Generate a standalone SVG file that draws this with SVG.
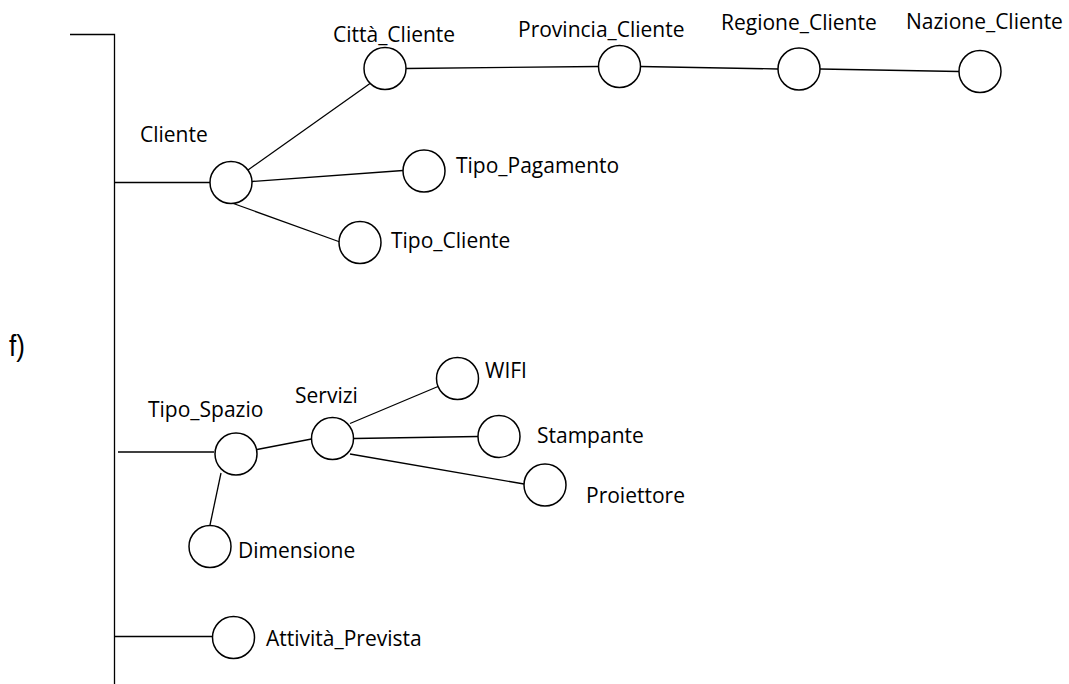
<svg xmlns="http://www.w3.org/2000/svg" width="1069" height="684" viewBox="0 0 1069 684">
  <style>
    .bg { fill: #ffffff; }
    .edge { stroke: #000000; stroke-width: 1.3; fill: none; }
    .node circle { fill: #ffffff; stroke: #000000; stroke-width: 1.5; }
    .label { font-family: "Open Sans", Lato, sans-serif; font-size: 21px; fill: #000000; }
    .tag { font-family: "Liberation Sans", Arial, sans-serif; font-size: 29px; fill: #000000; }
  </style>
  <rect class="bg" x="0" y="0" width="1069" height="684"/>

  <!-- attribute tree spine and branches -->
  <g id="connectors">
    <path class="edge" d="M70 34.5 H114.5 V684"/>
    <line class="edge" x1="114.5" y1="182.5" x2="210" y2="182.5"/>
    <line class="edge" x1="248" y1="170" x2="370" y2="83.5"/>
    <line class="edge" x1="252" y1="181.5" x2="403" y2="170.5"/>
    <line class="edge" x1="232" y1="203" x2="340" y2="242"/>
    <line class="edge" x1="406" y1="68.5" x2="598.5" y2="66.5"/>
    <line class="edge" x1="640" y1="66.5" x2="778" y2="69"/>
    <line class="edge" x1="820" y1="69" x2="959" y2="71.5"/>
    <line class="edge" x1="118" y1="452" x2="214" y2="452"/>
    <line class="edge" x1="257" y1="449.5" x2="311.5" y2="439"/>
    <line class="edge" x1="221" y1="473" x2="210" y2="525"/>
    <line class="edge" x1="350" y1="423.5" x2="438" y2="386.5"/>
    <line class="edge" x1="354" y1="438.5" x2="478" y2="436.5"/>
    <line class="edge" x1="350" y1="454" x2="524" y2="484"/>
    <line class="edge" x1="114.5" y1="636.5" x2="212" y2="636.5"/>
  </g>

  <text class="tag" transform="translate(9 356) scale(0.9 1)">f)</text>

  <g id="cliente" class="node">
    <circle cx="231" cy="182.5" r="21"/>
    <text class="label" x="140" y="142">Cliente</text>
  </g>
  <g id="citta-cliente" class="node">
    <circle cx="385" cy="68.5" r="21"/>
    <text class="label" x="333" y="41.5">Città_Cliente</text>
  </g>
  <g id="provincia-cliente" class="node">
    <circle cx="619.5" cy="66.5" r="21"/>
    <text class="label" x="518" y="36.5">Provincia_Cliente</text>
  </g>
  <g id="regione-cliente" class="node">
    <circle cx="799" cy="69" r="21"/>
    <text class="label" x="721" y="30">Regione_Cliente</text>
  </g>
  <g id="nazione-cliente" class="node">
    <circle cx="980" cy="71.5" r="21"/>
    <text class="label" x="906" y="28.5">Nazione_Cliente</text>
  </g>
  <g id="tipo-pagamento" class="node">
    <circle cx="424" cy="171" r="21"/>
    <text class="label" x="456" y="173">Tipo_Pagamento</text>
  </g>
  <g id="tipo-cliente" class="node">
    <circle cx="360" cy="242.5" r="21"/>
    <text class="label" x="391" y="248">Tipo_Cliente</text>
  </g>

  <g id="tipo-spazio" class="node">
    <circle cx="236" cy="454" r="21"/>
    <text class="label" x="148" y="417">Tipo_Spazio</text>
  </g>
  <g id="servizi" class="node">
    <circle cx="332.5" cy="438.5" r="21"/>
    <text class="label" x="295" y="403">Servizi</text>
  </g>
  <g id="wifi" class="node">
    <circle cx="457.5" cy="378.5" r="21"/>
    <text class="label" x="485" y="378">WIFI</text>
  </g>
  <g id="stampante" class="node">
    <circle cx="499" cy="436.5" r="21"/>
    <text class="label" x="537" y="443">Stampante</text>
  </g>
  <g id="proiettore" class="node">
    <circle cx="545" cy="485" r="21"/>
    <text class="label" x="586" y="503">Proiettore</text>
  </g>
  <g id="dimensione" class="node">
    <circle cx="210" cy="546.5" r="21"/>
    <text class="label" x="238" y="558">Dimensione</text>
  </g>

  <g id="attivita-prevista" class="node">
    <circle cx="233.5" cy="637.5" r="21"/>
    <text class="label" x="266" y="646">Attività_Prevista</text>
  </g>
</svg>
